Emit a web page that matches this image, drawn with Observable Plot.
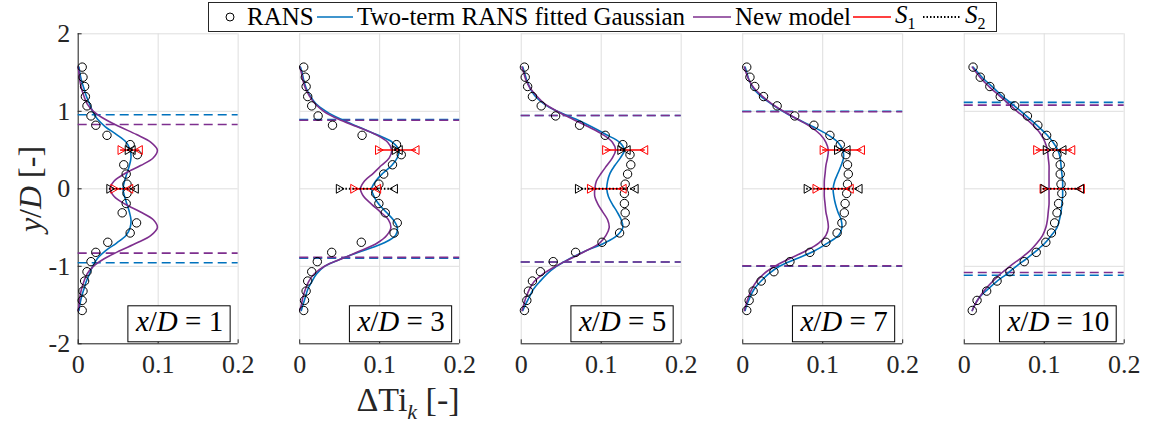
<!DOCTYPE html>
<html>
<head>
<meta charset="utf-8">
<script src="https://cdn.jsdelivr.net/npm/d3@7"></script>
<script src="https://cdn.jsdelivr.net/npm/@observablehq/plot@0.6"></script>
<style>
  body { margin: 0; background: #fff; }
  #fig { position: relative; width: 1156px; height: 425px; font-family: "Liberation Serif", serif; color: #262626; }
  #fig svg text { font-family: "Liberation Serif", serif !important; }
  .legend { position: absolute; left: 208px; top: 2px; width: 789px; height: 30px; box-sizing: border-box; border: 1px solid #262626;
            background: #fff; font-size: 25px; white-space: nowrap; color: #000; }
  .legend .item { position: absolute; top: 0; height: 28px; display: flex; align-items: center; }
  .legend svg { margin-right: 4px; }
  .ylabel { position: absolute; left: 30px; top: 189px; transform: translate(-50%, -50%) rotate(-90deg); font-size: 32px; white-space: nowrap; }
  .xlabel { position: absolute; left: 408px; top: 403px; transform: translate(-50%, -50%); font-size: 34px; white-space: nowrap; }
</style>
</head>
<body>
<div id="fig"></div>
<script>
// Streamwise stations x/D and axis ticks
const panels = ["1", "3", "5", "7", "10"];
const xTicks = [0, 0.1, 0.2];
const yTicks = [-2, -1, 0, 1, 2];

// RANS samples: lateral positions y/D and ΔTi_k at each station
const ransY = [1.57, 1.44, 1.32, 1.19, 1.07, 0.94, 0.82, 0.69, 0.57, 0.44, 0.31, 0.19, 0.06,
               -0.06, -0.19, -0.31, -0.44, -0.57, -0.69, -0.82, -0.94, -1.07, -1.19, -1.32, -1.44, -1.57];
const rans1 = [0.005,0.006,0.008,0.009,0.011,0.016,0.022,0.036,0.065,0.074,0.057,0.060,0.061,0.061,0.060,0.055,0.073,0.065,0.037,0.022,0.016,0.011,0.008,0.006,0.005,0.005];
const rans3 = [0.005,0.007,0.008,0.010,0.015,0.023,0.041,0.078,0.121,0.127,0.116,0.105,0.099,0.095,0.099,0.107,0.122,0.118,0.077,0.040,0.022,0.015,0.010,0.008,0.006,0.005];
const rans5 = [0.004,0.005,0.008,0.014,0.025,0.043,0.073,0.105,0.127,0.136,0.137,0.133,0.130,0.129,0.129,0.130,0.130,0.123,0.101,0.068,0.040,0.024,0.014,0.009,0.007,0.004];
const rans7 = [0.005,0.009,0.015,0.026,0.043,0.065,0.089,0.109,0.122,0.129,0.131,0.132,0.131,0.130,0.128,0.127,0.124,0.118,0.104,0.084,0.059,0.039,0.023,0.013,0.008,0.005];
const rans10 = [0.011,0.020,0.032,0.045,0.063,0.079,0.092,0.103,0.111,0.116,0.120,0.120,0.121,0.122,0.118,0.116,0.113,0.109,0.102,0.090,0.075,0.057,0.041,0.028,0.016,0.010];

// Profiles of the two-term Gaussian fit and of the new model, sampled at curveY
const curveY = [1.57, 1.5, 1.4, 1.3, 1.2, 1.1, 1.0, 0.9, 0.8, 0.7, 0.6, 0.5, 0.4, 0.3, 0.2, 0.1, 0,
                -0.1, -0.2, -0.3, -0.4, -0.5, -0.6, -0.7, -0.8, -0.9, -1.0, -1.1, -1.2, -1.3, -1.4, -1.5, -1.57];
const fit1 = [0.001,0.002,0.004,0.007,0.010,0.014,0.018,0.024,0.034,0.048,0.060,0.065,0.066,0.064,0.061,0.058,0.056,0.058,0.061,0.064,0.066,0.065,0.060,0.048,0.034,0.024,0.018,0.014,0.010,0.007,0.004,0.002,0.001];
const fit3 = [0.001,0.003,0.005,0.008,0.013,0.020,0.033,0.051,0.073,0.096,0.116,0.124,0.122,0.115,0.104,0.095,0.090,0.093,0.099,0.108,0.117,0.122,0.120,0.105,0.079,0.053,0.031,0.021,0.015,0.010,0.007,0.004,0.002];
const fit5 = [0.002,0.004,0.007,0.011,0.017,0.028,0.045,0.068,0.088,0.106,0.123,0.129,0.124,0.117,0.111,0.108,0.107,0.109,0.114,0.120,0.125,0.127,0.120,0.104,0.081,0.061,0.044,0.032,0.023,0.015,0.010,0.005,0.002];
const fit7 = [0.003,0.005,0.008,0.013,0.022,0.035,0.050,0.068,0.088,0.106,0.119,0.125,0.126,0.123,0.119,0.115,0.113,0.114,0.116,0.119,0.123,0.124,0.120,0.106,0.090,0.068,0.046,0.032,0.022,0.014,0.009,0.005,0.003];
const fit10 = [0.011,0.017,0.026,0.037,0.047,0.059,0.071,0.082,0.093,0.103,0.111,0.117,0.120,0.121,0.122,0.123,0.123,0.123,0.122,0.121,0.119,0.116,0.109,0.101,0.090,0.078,0.065,0.053,0.040,0.029,0.019,0.013,0.010];
const model1 = [0.000,0.001,0.002,0.004,0.007,0.011,0.019,0.033,0.052,0.073,0.091,0.099,0.094,0.078,0.059,0.045,0.040,0.045,0.059,0.078,0.094,0.099,0.091,0.073,0.052,0.033,0.019,0.011,0.007,0.004,0.002,0.001,0.000];
const model3 = [0.000,0.002,0.004,0.007,0.012,0.019,0.030,0.048,0.072,0.095,0.110,0.115,0.112,0.102,0.092,0.081,0.076,0.080,0.090,0.101,0.111,0.114,0.109,0.097,0.076,0.053,0.031,0.018,0.011,0.007,0.004,0.002,0.000];
const model5 = [0.001,0.003,0.006,0.011,0.019,0.029,0.045,0.064,0.084,0.102,0.114,0.118,0.114,0.107,0.100,0.094,0.092,0.092,0.096,0.102,0.108,0.110,0.106,0.098,0.081,0.062,0.043,0.027,0.016,0.010,0.006,0.003,0.001];
const model7 = [0.002,0.004,0.008,0.014,0.024,0.036,0.051,0.068,0.085,0.097,0.104,0.107,0.106,0.104,0.103,0.102,0.102,0.102,0.103,0.104,0.106,0.107,0.104,0.095,0.079,0.059,0.040,0.026,0.017,0.011,0.007,0.004,0.002];
const model10 = [0.010,0.015,0.023,0.033,0.044,0.055,0.066,0.078,0.088,0.096,0.101,0.104,0.105,0.106,0.106,0.106,0.106,0.106,0.106,0.105,0.104,0.102,0.098,0.091,0.082,0.070,0.057,0.045,0.035,0.026,0.019,0.013,0.010];

// Wake half-width (±) of each profile, drawn as dashed lines
const fitEdge = [0.955, 0.895, 0.945, 1.0, 1.115];
const modelEdge = [0.83, 0.885, 0.945, 0.995, 1.08];

// Spread bars S1 and S2 at y/D = 0.5 and 0: [lower, upper] per station
const barY = [0.5, 0];
const s1 = [[[0.053, 0.077], [0.044, 0.065]],
            [[0.098, 0.146], [0.067, 0.098]],
            [[0.105, 0.155], [0.086, 0.128]],
            [[0.100, 0.149], [0.091, 0.135]],
            [[0.090, 0.135], [0.098, 0.147]]];
const s2 = [[[0.062, 0.068], [0.039, 0.072]],
            [[0.119, 0.125], [0.049, 0.119]],
            [[0.124, 0.133], [0.071, 0.143]],
            [[0.118, 0.131], [0.080, 0.146]],
            [[0.102, 0.124], [0.099, 0.146]]];

const legendNames = ["RANS", "Two-term RANS fitted Gaussian", "New model", "S1", "S2"];
const colors = {fit: "#0072BD", model: "#7E2F8E", S1: "#FF0000", S2: "#000000"};

// ---- tidy tables
const ransX = [rans1, rans3, rans5, rans7, rans10];
const fitX = [fit1, fit3, fit5, fit7, fit10];
const modelX = [model1, model3, model5, model7, model10];

const rans = panels.flatMap((p, i) => ransY.map((y, j) => ({panel: p, y, x: ransX[i][j]})));
const curves = panels.flatMap((p, i) => [
  ...curveY.map((y, j) => ({panel: p, series: "fit", y, x: fitX[i][j]})),
  ...curveY.map((y, j) => ({panel: p, series: "model", y, x: modelX[i][j]}))
]);
const edges = panels.flatMap((p, i) => [1, -1].flatMap(s => [
  {panel: p, series: "fit", y: s * fitEdge[i]},
  {panel: p, series: "model", y: s * modelEdge[i]}
]));
const bars = panels.flatMap((p, i) => barY.flatMap((y, j) => [
  {panel: p, set: "S1", y, lo: s1[i][j][0], hi: s1[i][j][1]},
  {panel: p, set: "S2", y, lo: s2[i][j][0], hi: s2[i][j][1]}
]));
const barEnds = bars.flatMap(b => [{...b, x: b.lo, side: "lo"}, {...b, x: b.hi, side: "hi"}]);
const labels = panels.map(p => ({panel: p, text: `x/D = ${p}`}));
const leftAxis = yTicks.map(y => ({panel: panels[0], y}));

// ---- layout
const W = 1156, H = 425;
const mTop = 33.3, mBottom = 81.7, mLeft = 77.7, mRight = 32.3;
const plotH = H - mTop - mBottom;
const axisColor = "#262626", gridColor = "#dedede";
const serif = "Liberation Serif, serif";

const chart = Plot.plot({
  width: W, height: H,
  marginTop: mTop, marginBottom: mBottom, marginLeft: mLeft, marginRight: mRight,
  style: {fontFamily: serif, fontSize: "26px", color: axisColor, background: "transparent", overflow: "visible"},
  fx: {domain: panels, paddingInner: 0.278, paddingOuter: 0, round: false, axis: null, label: null},
  x: {domain: [0, 0.2], label: null},
  y: {domain: [-2, 2], label: null},
  marks: [
    // grid
    Plot.ruleX(xTicks, {x: d => d, stroke: gridColor, strokeWidth: 1}),
    Plot.ruleY(yTicks, {y: d => d, stroke: gridColor, strokeWidth: 1}),
    // axis lines and inward ticks
    Plot.ruleY(yTicks.slice(0, 1), {y: d => d, stroke: axisColor, strokeWidth: 1}),
    Plot.tickX(xTicks, {x: d => d, stroke: axisColor, insetTop: plotH - 4}),
    Plot.ruleX(leftAxis.slice(0, 1), {x: () => 0, fx: "panel", stroke: axisColor, strokeWidth: 1}),
    Plot.tickY(leftAxis, {y: "y", fx: "panel", stroke: axisColor, insetRight: 156}),
    Plot.axisX({ticks: xTicks, tickFormat: d => String(d), tickSize: 0, tickPadding: 11, label: null, fill: axisColor, fontSize: 26}),
    Plot.axisY({ticks: yTicks, tickFormat: d => String(d), tickSize: 0, tickPadding: 8, label: null, fill: axisColor, fontSize: 26}),
    // wake half-width lines
    Plot.ruleY(edges, {y: "y", fx: "panel", stroke: d => colors[d.series], strokeWidth: 1.6, strokeDasharray: "9,5"}),
    // profiles
    Plot.line(curves, {x: "x", y: "y", z: "series", fx: "panel", stroke: d => colors[d.series], strokeWidth: 1.6, curve: "catmull-rom"}),
    // RANS samples
    Plot.dot(rans, {x: "x", y: "y", fx: "panel", r: 4.2, stroke: "#000", strokeWidth: 1, fill: "none"}),
    // spread bars
    Plot.ruleY(bars.filter(b => b.set === "S1"), {y: "y", x1: "lo", x2: "hi", fx: "panel", stroke: colors.S1, strokeWidth: 1.5}),
    Plot.ruleY(bars.filter(b => b.set === "S2"), {y: "y", x1: "lo", x2: "hi", fx: "panel", stroke: colors.S2, strokeWidth: 2, strokeDasharray: "1.5,2"}),
    Plot.dot(barEnds, {x: "x", y: "y", fx: "panel", symbol: "triangle", r: 3.3,
      rotate: d => d.side === "lo" ? 90 : -90, stroke: d => colors[d.set], strokeWidth: 1, fill: "none"}),
    // station labels
    Plot.text(labels, {fx: "panel", text: "text", frameAnchor: "bottom-right", textAnchor: "end", lineAnchor: "bottom",
      dx: -15, dy: -13, fontSize: 29, fill: "#000"})
  ]
});

const fig = document.getElementById("fig");
fig.appendChild(chart);

// Every SVG text in the serif face
d3.select(chart).selectAll("text").attr("font-family", serif).style("font-family", serif);

// Station labels: italic math symbols inside a framed box
d3.select(chart).selectAll("text").filter(function () { return /^x\/D = /.test(this.textContent); })
  .each(function () {
    const t = d3.select(this);
    const num = this.textContent.split("= ")[1];
    t.text(null);
    t.append("tspan").attr("font-style", "italic").text("x");
    t.append("tspan").text("/");
    t.append("tspan").attr("font-style", "italic").text("D");
    t.append("tspan").text(" = " + num);
    const bb = this.getBBox();
    const g = this.parentNode;
    const tf = this.getAttribute("transform");
    const boxH = 36;
    const bottom = bb.y + bb.height + 5;
    const rect = document.createElementNS("http://www.w3.org/2000/svg", "rect");
    rect.setAttribute("x", bb.x - 7);
    rect.setAttribute("y", bottom - boxH);
    rect.setAttribute("width", bb.width + 14);
    rect.setAttribute("height", boxH);
    rect.setAttribute("fill", "#fff");
    rect.setAttribute("stroke", "#000");
    rect.setAttribute("stroke-width", 1);
    if (tf) rect.setAttribute("transform", tf);
    g.insertBefore(rect, this);
  });

// Legend: each entry's left offset inside the box
const legendLeft = [10, 108, 484, 644, 714];
const glyphs = [
  `<svg width="24" height="20"><circle cx="11" cy="10" r="4" fill="none" stroke="#000" stroke-width="1"/></svg>`,
  `<svg width="36" height="10"><line x1="0" y1="5" x2="36" y2="5" stroke="${colors.fit}" stroke-width="1.6"/></svg>`,
  `<svg width="38" height="10"><line x1="0" y1="5" x2="38" y2="5" stroke="${colors.model}" stroke-width="1.6"/></svg>`,
  `<svg width="38" height="10"><line x1="0" y1="5" x2="38" y2="5" stroke="${colors.S1}" stroke-width="1.6"/></svg>`,
  `<svg width="38" height="10"><line x1="0" y1="5" x2="38" y2="5" stroke="${colors.S2}" stroke-width="2" stroke-dasharray="1.5,2"/></svg>`
];
const legend = document.createElement("div");
legend.className = "legend";
const names = legendNames.map(n => /^S\d$/.test(n) ? `<i>${n[0]}</i><sub style="font-size:16px">${n.slice(1)}</sub>` : n);
legend.innerHTML = names.map((n, i) =>
  `<span class="item" style="left:${legendLeft[i]}px">${glyphs[i]}<span>${n}</span></span>`).join("");
fig.appendChild(legend);

// Axis titles
const yl = document.createElement("div");
yl.className = "ylabel";
yl.innerHTML = `<i>y</i>/<i>D</i> [-]`;
fig.appendChild(yl);
const xl = document.createElement("div");
xl.className = "xlabel";
xl.innerHTML = `ΔTi<sub style="font-size:22px"><i>k</i></sub> [-]`;
fig.appendChild(xl);
</script>
</body>
</html>
